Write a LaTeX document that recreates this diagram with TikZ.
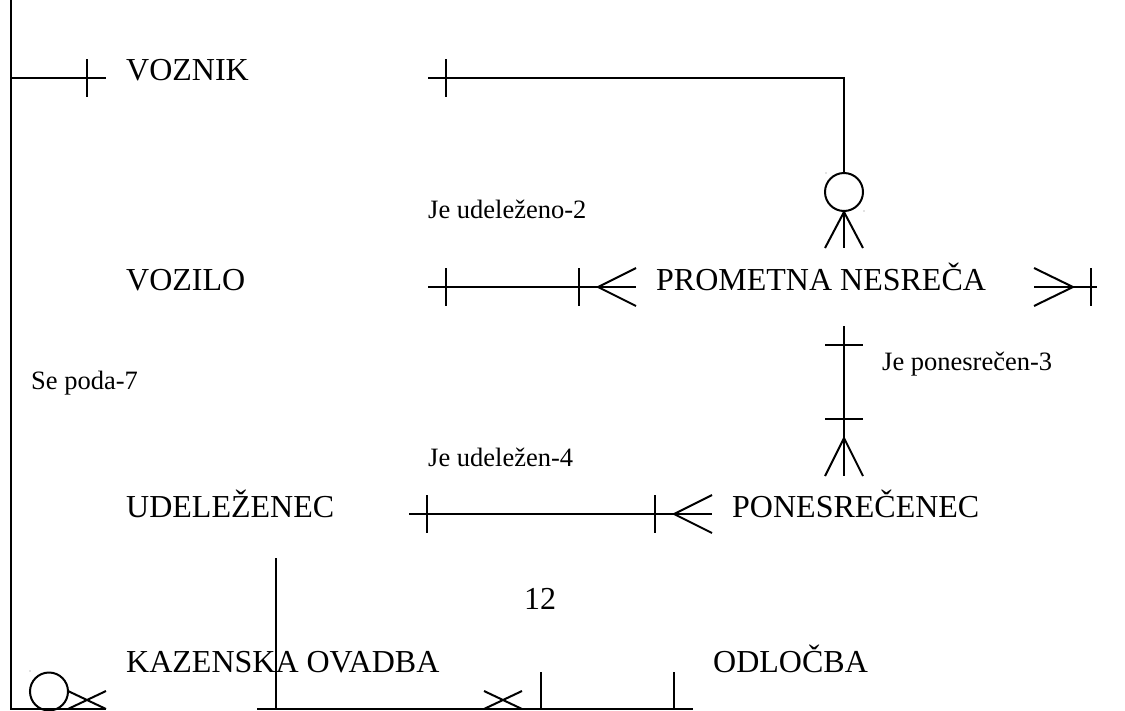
\documentclass[tikz,border=0pt]{standalone}
\usepackage{fontspec}
\setmainfont{Liberation Serif}
\tikzset{
  ln/.style={draw=black,line width=2pt},
  big/.style={anchor=base west,inner sep=0pt,font=\fontsize{32pt}{36pt}\selectfont},
  small/.style={anchor=base west,inner sep=0pt,font=\fontsize{26.5pt}{30pt}\selectfont},
  ring/.style={circle,draw=black,line width=2pt,minimum size=38pt,inner sep=0pt},
  speck/.style={circle,fill=gray,inner sep=0pt,minimum size=1.4pt}
}
\begin{document}
\begin{tikzpicture}[x=1pt,y=-1pt]
\useasboundingbox (0,0) rectangle (1125,710);
\clip (0,0) rectangle (1125,710);
% labels
\node[big] (voznik) at (126,80) {VOZNIK};
\node[big] (vozilo) at (126,290) {VOZILO};
\node[big] (nesreca) at (656,290) {PROMETNA NESREČA};
\node[big] (udel) at (126,517) {UDELEŽENEC};
\node[big] (pones) at (732,517) {PONESREČENEC};
\node[big] (kaz) at (126,672) {KAZENSKA OVADBA};
\node[big] (odl) at (713,672) {ODLOČBA};
\node[big] (num) at (524,609) {12};
\node[small] (l2) at (428,218) {Je udeleženo-2};
\node[small] (l3) at (882,370) {Je ponesrečen-3};
\node[small] (l4) at (428,466) {Je udeležen-4};
\node[small] (l7) at (31,389) {Se poda-7};
% rings
\node[ring] (r1) at (844,192) {};
\node[ring] (r2) at (49,691.5) {};
\node[speck] (s1) at (826,173) {};
\node[speck] (s2) at (864,211) {};
\node[speck] (s3) at (30,671) {};
% left frame
\coordinate (a0) at (11,0); \coordinate (a1) at (11,709);
\coordinate (a2) at (11,78); \coordinate (a3) at (106,78);
\coordinate (a4) at (87,59); \coordinate (a5) at (87,97);
\coordinate (a6) at (106,709);
\draw[ln] (a0) -- (a1) -- (a6);
\draw[ln] (a2) -- (a3);
\draw[ln] (a4) -- (a5);
% X at lower left
\coordinate (x1) at (68,691); \coordinate (x2) at (106,709);
\coordinate (x3) at (106,691); \coordinate (x4) at (68,709);
\draw[ln] (x1) -- (x2);
\draw[ln] (x3) -- (x4);
% VOZNIK line to ring
\coordinate (b0) at (428,78); \coordinate (b1) at (844,78);
\coordinate (b2) at (446,59); \coordinate (b3) at (446,97);
\draw[ln] (b0) -- (b1) -- (r1.north);
\draw[ln] (b2) -- (b3);
% crow under ring
\coordinate (c1) at (825,248); \coordinate (c2) at (844,248); \coordinate (c3) at (863,248);
\draw[ln] (r1.south) -- (c1);
\draw[ln] (r1.south) -- (c2);
\draw[ln] (r1.south) -- (c3);
% VOZILO - NESRECA
\coordinate (d0) at (428,287); \coordinate (d1) at (636,287);
\coordinate (d2) at (446,268); \coordinate (d3) at (446,306);
\coordinate (d4) at (579,268); \coordinate (d5) at (579,306);
\coordinate (d6) at (598,287); \coordinate (d7) at (636,268); \coordinate (d8) at (636,306);
\draw[ln] (d0) -- (d1);
\draw[ln] (d2) -- (d3);
\draw[ln] (d4) -- (d5);
\draw[ln] (d7) -- (d6) -- (d8);
% right stub
\coordinate (e0) at (1034,287); \coordinate (e1) at (1097,287);
\coordinate (e2) at (1091,268); \coordinate (e3) at (1091,306);
\coordinate (e4) at (1073,287); \coordinate (e5) at (1034,268); \coordinate (e6) at (1034,306);
\draw[ln] (e0) -- (e1);
\draw[ln] (e2) -- (e3);
\draw[ln] (e5) -- (e4) -- (e6);
% NESRECA - PONESRECENEC
\coordinate (f0) at (844,326); \coordinate (f1) at (844,476);
\coordinate (f2) at (825,345); \coordinate (f3) at (863,345);
\coordinate (f4) at (825,419); \coordinate (f5) at (863,419);
\coordinate (f6) at (844,438); \coordinate (f7) at (825,476); \coordinate (f8) at (863,476);
\draw[ln] (f0) -- (f1);
\draw[ln] (f2) -- (f3);
\draw[ln] (f4) -- (f5);
\draw[ln] (f7) -- (f6) -- (f8);
% UDELEZENEC - PONESRECENEC
\coordinate (g0) at (409,514); \coordinate (g1) at (712,514);
\coordinate (g2) at (427,495); \coordinate (g3) at (427,533);
\coordinate (g4) at (655,495); \coordinate (g5) at (655,533);
\coordinate (g6) at (674,514); \coordinate (g7) at (712,495); \coordinate (g8) at (712,533);
\draw[ln] (g0) -- (g1);
\draw[ln] (g2) -- (g3);
\draw[ln] (g4) -- (g5);
\draw[ln] (g7) -- (g6) -- (g8);
% bottom
\coordinate (h0) at (257,709); \coordinate (h1) at (693,709);
\coordinate (h2) at (276,558); \coordinate (h3) at (276,709);
\coordinate (h4) at (541,672); \coordinate (h5) at (541,709);
\coordinate (h6) at (674,672); \coordinate (h7) at (674,709);
\coordinate (h8) at (484,691); \coordinate (h9) at (522,709);
\coordinate (h10) at (522,691); \coordinate (h11) at (484,709);
\draw[ln] (h0) -- (h1);
\draw[ln] (h2) -- (h3);
\draw[ln] (h4) -- (h5);
\draw[ln] (h6) -- (h7);
\draw[ln] (h8) -- (h9);
\draw[ln] (h10) -- (h11);
\end{tikzpicture}
\end{document}
